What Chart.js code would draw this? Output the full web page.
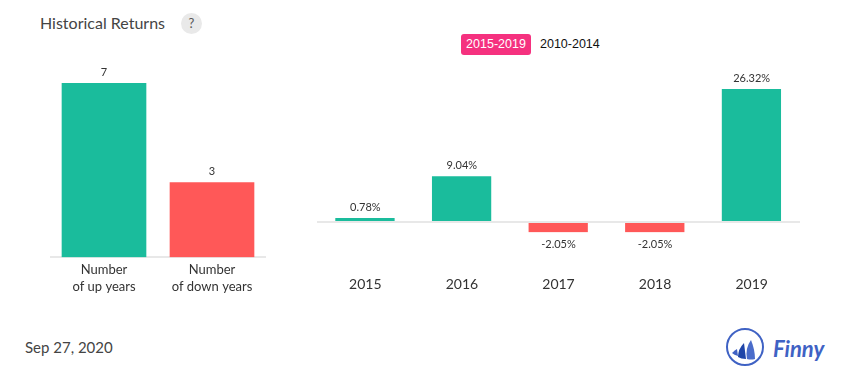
<!DOCTYPE html>
<html>
<head>
<meta charset="utf-8">
<script src="https://cdn.jsdelivr.net/npm/chart.js@4"></script>
<style>
  html, body { margin: 0; padding: 0; background: #fff; }
  body { width: 855px; height: 382px; position: relative; overflow: hidden; font-family: Lato, sans-serif; }
  canvas { position: absolute; }
  .abs { position: absolute; white-space: nowrap; }
  #title { left: 40px; top: 13px; font-size: 16px; line-height: 20px; color: #444; }
  #help { left: 181px; top: 13px; width: 21px; height: 21px; border-radius: 50%; background: #e9e9e9; color: #555; font-size: 13px; line-height: 21px; text-align: center; }
  #tab1 { left: 461px; top: 34px; width: 70px; height: 21px; border-radius: 3px; background: #f5317f; color: #fff; text-align: center; font: 12.5px/21px "Liberation Sans", sans-serif; }
  #tab2 { left: 540px; top: 34px; color: #111; font: 12.5px/21px "Liberation Sans", sans-serif; }
  #date { left: 25px; top: 337px; font-size: 15px; line-height: 20px; color: #444; }
  #logo { left: 725px; top: 326px; }
  #brand { left: 773px; top: 334px; font-size: 22px; line-height: 30px; font-weight: 700; font-style: italic; color: #3f62c4; }
</style>
</head>
<body>
<div class="abs" id="title">Historical Returns</div>
<div class="abs" id="help">?</div>
<div class="abs" id="tab1">2015-2019</div>
<div class="abs" id="tab2">2010-2014</div>
<canvas id="countChart" width="216" height="237" style="left:50px;top:60px"></canvas>
<canvas id="yearChart" width="483" height="248" style="left:317px;top:60px"></canvas>
<div class="abs" id="date">Sep 27, 2020</div>
<svg class="abs" id="logo" width="42" height="42" viewBox="0 0 42 42">
  <circle cx="20" cy="21" r="18" fill="none" stroke="#3f62c4" stroke-width="2"/>
  <path d="M7 27 Q10 24 12 23 L13 30 Q9 29 7 27 Z" fill="#3f62c4"/>
  <path d="M13 31 Q13 23 19 17 L21 33 Q16 33 13 31 Z" fill="#1f45a8"/>
  <path d="M22 33 Q20 22 26 14 Q30 24 30 33 Q26 34 22 33 Z" fill="#4a6cca"/>
</svg>
<div class="abs" id="brand">Finny</div>

<script>
const countLabels = [['Number', 'of up years'], ['Number', 'of down years']];
const countValues = [7, 3];

const years = ['2015', '2016', '2017', '2018', '2019'];
const returns = [0.78, 9.04, -2.05, -2.05, 26.32];

const UP = '#1abc9c';
const DOWN = '#ff5858';

// Value labels above positive bars, below negative ones
const barValueLabels = {
    id: 'barValueLabels',
    afterDatasetsDraw(chart, args, opts) {
        const ctx = chart.ctx;
        const meta = chart.getDatasetMeta(0);
        ctx.save();
        ctx.font = '11px Lato';
        ctx.fillStyle = '#333';
        ctx.textAlign = 'center';
        ctx.textBaseline = 'middle';
        meta.data.forEach((bar, i) => {
            const value = chart.data.datasets[0].data[i];
            const y = value >= 0 ? bar.y - 11 : bar.y + 12;
            ctx.fillText(opts.format(value), bar.x, y);
        });
        ctx.restore();
    }
};

new Chart(document.getElementById('countChart').getContext('2d'), {
    type: 'bar',
    data: {
        labels: countLabels,
        datasets: [{
            data: countValues,
            backgroundColor: [UP, DOWN],
            barThickness: 84
        }]
    },
    options: {
        responsive: false,
        animation: false,
        layout: { padding: { top: 23 } },
        plugins: {
            legend: { display: false },
            tooltip: { enabled: false },
            barValueLabels: { format: v => String(v) }
        },
        scales: {
            x: {
                // labels are clipped to the scale box, so make it taller than the negative padding leaves it
                afterFit: axis => { axis.height += 6; },
                grid: { display: false },
                border: { color: '#e8e8e8', width: 2 },
                ticks: { color: '#333', font: { family: 'Lato', size: 13, lineHeight: 1.3 }, padding: -4, maxRotation: 0 }
            },
            y: { display: false, min: 0, max: 7 }
        }
    },
    plugins: [barValueLabels]
});

new Chart(document.getElementById('yearChart').getContext('2d'), {
    type: 'bar',
    data: {
        labels: years,
        datasets: [{
            data: returns,
            backgroundColor: returns.map(v => v >= 0 ? UP : DOWN),
            borderColor: '#fff',
            borderWidth: { left: 0, right: 1 },
            borderSkipped: false,
            barThickness: 60
        }]
    },
    options: {
        responsive: false,
        animation: false,
        layout: { padding: { top: 29 } },
        plugins: {
            legend: { display: false },
            tooltip: { enabled: false },
            barValueLabels: { format: v => v.toFixed(2) + '%' }
        },
        scales: {
            x: {
                grid: { display: false },
                border: { display: false },
                ticks: { color: '#333', font: { family: 'Lato', size: 14 }, padding: 15.5, maxRotation: 0 }
            },
            y: {
                min: -6,
                max: 26.32,
                afterBuildTicks: axis => { axis.ticks = [{ value: 0 }]; },
                ticks: { display: false },
                border: { display: false },
                grid: { color: '#e8e8e8', lineWidth: 2, drawTicks: false }
            }
        }
    },
    plugins: [barValueLabels]
});
</script>
</body>
</html>
